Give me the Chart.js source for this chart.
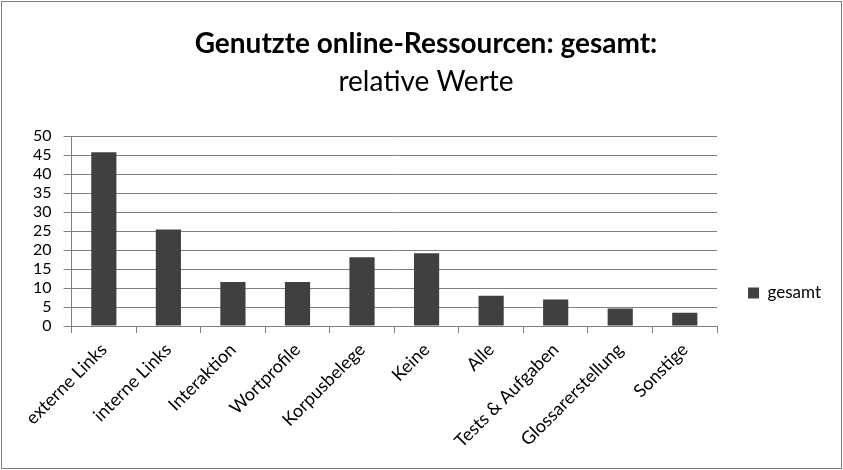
<!DOCTYPE html>
<html>
<head>
<meta charset="utf-8">
<script src="https://cdn.jsdelivr.net/npm/chart.js@4/dist/chart.umd.min.js"></script>
<style>
  html, body { margin: 0; padding: 0; background: #fff; }
  #wrap { position: absolute; left: 1px; top: 1px; width: 839px; height: 466px; border: 1px solid #7f7f7f; background: #fff; }
  canvas { display: block; }
</style>
</head>
<body>
<div id="wrap"><canvas id="c"></canvas></div>
<script>
const categories = ["externe Links", "interne Links", "Interaktion", "Wortprofile", "Korpusbelege", "Keine", "Alle", "Tests & Aufgaben", "Glossarerstellung", "Sonstige"];
const seriesName = "gesamt";
const values = [45.8, 25.4, 11.6, 11.6, 18.1, 19.2, 8.0, 7.0, 4.6, 3.5];
const titleText = "Genutzte online-Ressourcen: gesamt:";
const subtitleText = "relative Werte";

const FONT = "Lato, 'Open Sans', sans-serif";

new Chart(document.getElementById('c'), {
  type: 'bar',
  data: {
    labels: categories,
    datasets: [{
      label: seriesName,
      data: values,
      backgroundColor: '#404040',
      borderWidth: 0,
      barPercentage: 0.39,
      categoryPercentage: 1.0
    }]
  },
  options: {
    responsive: true,
    maintainAspectRatio: false,
    animation: false,
    layout: { padding: { left: 19, right: 10, top: 0, bottom: 10 } },
    plugins: {
      title: {
        display: true,
        text: titleText,
        color: '#000',
        font: { family: FONT, size: 28, weight: 'bold', lineHeight: 1.2 },
        padding: { top: 25, bottom: 5 }
      },
      subtitle: {
        display: true,
        text: subtitleText,
        color: '#000',
        font: { family: FONT, size: 28, weight: 'normal', lineHeight: 1.2 },
        padding: { top: 0, bottom: 37 }
      },
      legend: {
        position: 'right',
        align: 'center',
        title: {
          display: true,
          text: ' ',
          font: { family: FONT, size: 10, lineHeight: 1 },
          padding: { top: 0, bottom: 116 }
        },
        labels: {
          color: '#000',
          font: { family: FONT, size: 17 },
          boxWidth: 11,
          boxHeight: 11,
          padding: 31
        }
      },
      tooltip: { enabled: false }
    },
    scales: {
      x: {
        offset: true,
        grid: { display: true, drawOnChartArea: false, drawTicks: true, tickLength: 7, color: '#7f7f7f', offset: true },
        border: { display: true, color: '#7f7f7f' },
        ticks: {
          color: '#000',
          font: { family: FONT, size: 18 },
          minRotation: 45,
          maxRotation: 45,
          autoSkip: false,
          padding: 6
        }
      },
      y: {
        min: 0,
        max: 50,
        ticks: {
          stepSize: 5,
          autoSkip: false,
          color: '#000',
          font: { family: FONT, size: 16, lineHeight: 1 },
          padding: 12
        },
        grid: { color: '#7f7f7f', tickLength: 8, drawTicks: true },
        border: { display: true, color: '#7f7f7f' }
      }
    }
  }
});
</script>
</body>
</html>
